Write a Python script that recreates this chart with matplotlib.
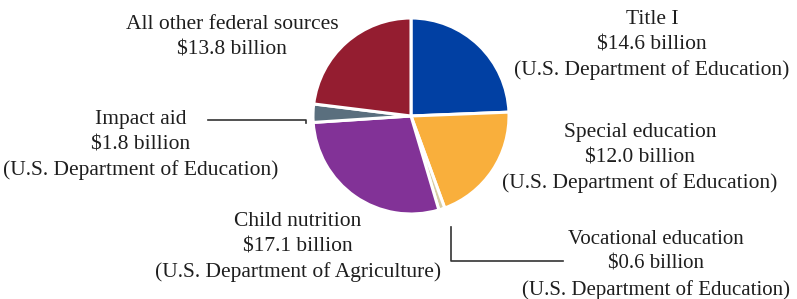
import matplotlib.pyplot as plt

# federal education funding, billions of dollars
programs = ["Title I", "Special education", "Vocational education",
            "Child nutrition", "Impact aid", "All other federal sources"]
amounts = [14.6, 12.0, 0.6, 17.1, 1.8, 13.8]
agencies = ["U.S. Department of Education", "U.S. Department of Education",
            "U.S. Department of Education", "U.S. Department of Agriculture",
            "U.S. Department of Education", None]
colors = ["#0140a3", "#f9af3c", "#d8cca3", "#823297", "#5a6f7e", "#941d30"]

plt.rcParams['font.family'] = ['Liberation Serif', 'DejaVu Serif']

W, H = 797, 299
fig = plt.figure(figsize=(W / 100, H / 100), dpi=100)
ax = fig.add_axes([0, 0, 1, 1])

cx, cy, r = 411, H - 116, 98
ax.pie(amounts, colors=colors, startangle=90, counterclock=False,
       center=(cx, cy), radius=r,
       wedgeprops=dict(edgecolor="white", linewidth=2.2))

ax.set_xlim(0, W)
ax.set_ylim(0, H)
ax.set_aspect("equal")
ax.axis("off")


def label(i, x, y, ls=1.43, fs=15.5):
    lines = [programs[i], "$%.1f billion" % amounts[i]]
    if agencies[i]:
        lines.append("(%s)" % agencies[i])
    ax.text(x, H - y, "\n".join(lines), ha="center", va="top",
            fontsize=fs, linespacing=ls, color="#1e1e1e")


label(0, 652, 10)
label(1, 640, 123)
label(2, 656, 230, ls=1.42, fs=15)
label(3, 298, 212)
label(4, 141, 110)
label(5, 232, 15)

# leader lines
ax.plot([208, 306, 306], [H - 120, H - 120, H - 123], color="#333333", lw=1.2)
ax.plot([451, 451, 563], [H - 227, H - 261, H - 261], color="#333333", lw=1.2)

fig.savefig("out.png", dpi=100)
